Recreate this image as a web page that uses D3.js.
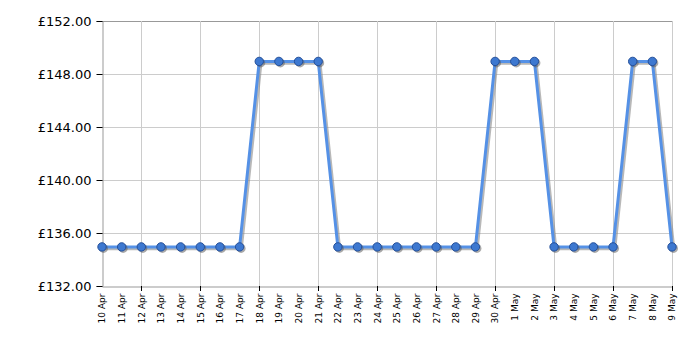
<!DOCTYPE html>
<html><head><meta charset="utf-8">
<script src="https://cdn.jsdelivr.net/npm/d3@7"></script>
<style>body{margin:0;background:#fff;} svg{display:block;} svg text{font-family:"DejaVu Sans",Verdana,sans-serif;}</style>
</head><body><svg id="c" width="700" height="350"></svg>
<script>
const dates = ["10 Apr","11 Apr","12 Apr","13 Apr","14 Apr","15 Apr","16 Apr","17 Apr","18 Apr","19 Apr","20 Apr","21 Apr","22 Apr","23 Apr","24 Apr","25 Apr","26 Apr","27 Apr","28 Apr","29 Apr","30 Apr","1 May","2 May","3 May","4 May","5 May","6 May","7 May","8 May","9 May"];
const prices = [134.95,134.95,134.95,134.95,134.95,134.95,134.95,134.95,148.95,148.95,148.95,148.95,134.95,134.95,134.95,134.95,134.95,134.95,134.95,134.95,148.95,148.95,148.95,134.95,134.95,134.95,134.95,148.95,148.95,134.95];
const yTicks = [132,136,140,144,148,152];

const svg = d3.select("#c");
const L=102,R=672,T=21,B=286;
const x = d3.scalePoint().domain(dates).range([L,R]);
const y = d3.scaleLinear().domain([132,152]).range([B,T]);
const gridDates = dates.filter((d,i)=>i%3===2 || i===dates.length-1);

// grid
svg.append("g").selectAll("line").data(yTicks.slice(1)).join("line")
  .attr("x1",L).attr("x2",R).attr("y1",d=>y(d)+0.5).attr("y2",d=>y(d)+0.5)
  .attr("stroke",d=>d===152?"#999":"#ccc").attr("stroke-width",1);
svg.append("g").selectAll("line").data(gridDates).join("line")
  .attr("x1",d=>Math.round(x(d))+0.5).attr("x2",d=>Math.round(x(d))+0.5).attr("y1",T).attr("y2",B)
  .attr("stroke","#ccc");

// axes
const ya = svg.append("g").attr("transform",`translate(${L+0.5},0)`)
  .call(d3.axisLeft(y).tickValues(yTicks).tickFormat(d=>"£"+d.toFixed(2)).tickSize(6).tickPadding(5))
  .attr("font-family",null);
ya.select(".domain").attr("stroke","#999");
ya.selectAll(".tick line").attr("stroke","#000");
ya.selectAll("text").attr("font-size","13px").attr("fill","#000");

const xa = svg.append("g").attr("transform",`translate(0,${B+0.5})`)
  .call(d3.axisBottom(x).tickValues(dates).tickSize(0).tickPadding(0))
  .attr("font-family",null);
xa.select(".domain").attr("stroke","#999");
xa.selectAll("text").attr("font-size","9px").attr("fill","#000")
  .attr("transform","rotate(-90)").attr("text-anchor","end").attr("dy","0.32em").attr("x",-7).attr("y",0);
svg.append("g").selectAll("line").data(gridDates).join("line")
  .attr("x1",d=>Math.round(x(d))+0.5).attr("x2",d=>Math.round(x(d))+0.5).attr("y1",B).attr("y2",B+5)
  .attr("stroke","#000");

// shadow line
const line = d3.line().x((d,i)=>x(dates[i])).y(d=>y(d));
svg.append("path").datum(prices).attr("d",line).attr("fill","none")
  .attr("stroke","#888").attr("stroke-opacity",0.6).attr("stroke-width",3.5)
  .attr("transform","translate(1.5,1.5)").attr("stroke-linejoin","round");
svg.append("path").datum(prices).attr("d",line).attr("fill","none")
  .attr("stroke","#5591e6").attr("stroke-width",3).attr("stroke-linejoin","round");

// points
svg.append("g").selectAll("circle.s").data(prices).join("circle")
  .attr("cx",(d,i)=>x(dates[i])+1.5).attr("cy",d=>y(d)+1.5).attr("r",4.5).attr("fill","#555").attr("opacity",0.5);
svg.append("g").selectAll("circle.p").data(prices).join("circle")
  .attr("cx",(d,i)=>x(dates[i])).attr("cy",d=>y(d)).attr("r",4.2)
  .attr("fill","#3d78d0").attr("stroke","#25509a").attr("stroke-width",1);
</script></body></html>
